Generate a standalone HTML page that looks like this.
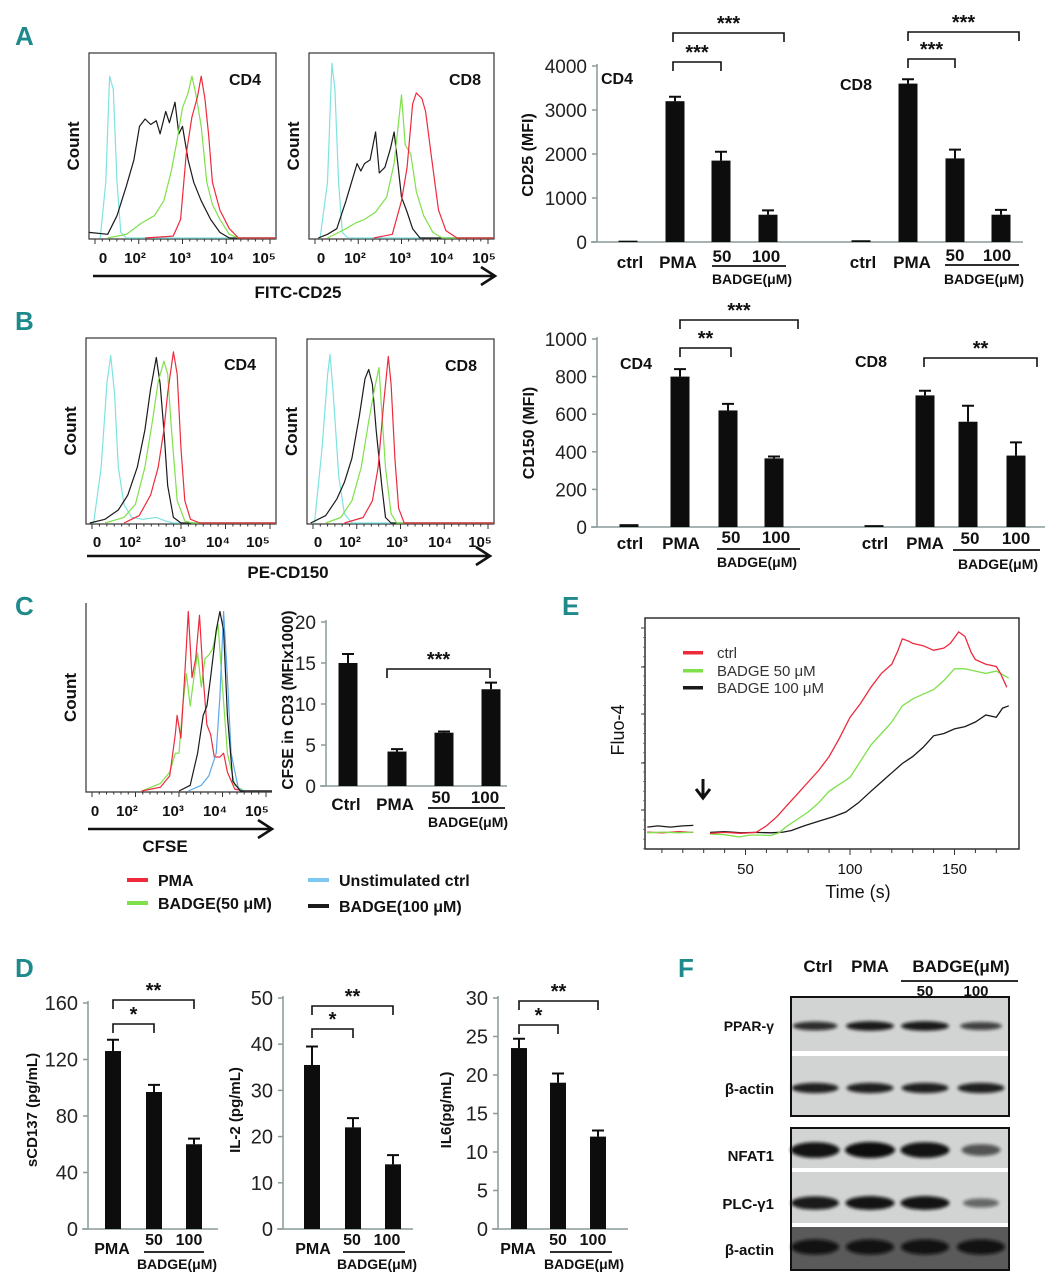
<!DOCTYPE html>
<html><head><meta charset="utf-8">
<style>
html,body{margin:0;padding:0;background:#fff;}
svg{display:block;font-family:"Liberation Sans",Arial,sans-serif;}
</style></head>
<body>
<svg id="fig" width="1057" height="1280" viewBox="0 0 1057 1280" xmlns="http://www.w3.org/2000/svg">
<defs><filter id="blur" x="-20%" y="-50%" width="140%" height="200%"><feGaussianBlur stdDeviation="1.6"/></filter></defs>
</svg>
<script>
// ---------- DATA ----------
const aCats = ["ctrl","PMA","50","100"];
const aCD4Vals = [30, 3200, 1850, 620];
const aCD4Errs = [0, 100, 200, 100];
const aCD8Vals = [40, 3600, 1900, 620];
const aCD8Errs = [0, 100, 200, 110];
const aTicks = [0, 1000, 2000, 3000, 4000];
const bCD4Vals = [15, 800, 620, 365];
const bCD4Errs = [0, 40, 35, 10];
const bCD8Vals = [10, 700, 560, 380];
const bCD8Errs = [0, 25, 85, 70];
const bTicks = [0, 200, 400, 600, 800, 1000];
const cCats = ["Ctrl","PMA","50","100"];
const cVals = [15, 4.2, 6.5, 11.8];
const cErrs = [1.1, 0.3, 0.15, 0.8];
const cTicks = [0, 5, 10, 15, 20];
const d1Vals = [126, 97, 60], d1Errs = [8, 5, 4], d1Ticks = [0, 40, 80, 120, 160];
const d2Vals = [35.5, 22, 14], d2Errs = [4, 2, 2], d2Ticks = [0, 10, 20, 30, 40, 50];
const d3Vals = [23.5, 19, 12], d3Errs = [1.2, 1.2, 0.8], d3Ticks = [0, 5, 10, 15, 20, 25, 30];
const eTicks = [50, 100, 150];
const eRedPre = [[3,7.3],[10,7.0],[18,7.5],[25,7.2]];
const eGreenPre = [[3,7.0],[10,7.3],[18,7.0],[25,7.3]];
const eBlackPre = [[3,9.5],[8,10],[14,9.5],[20,10],[25,10.2]];
const eRed = [[33,6.8],[40,7.2],[48,6.8],[55,7.2],[60,10],[65,14],[70,19],[75,24],[80,29],[85,34],[90,40],[95,48],[100,57],[105,63],[110,70],[115,76],[120,80],[123,86],[125,91],[128,90],[130,89],[135,88],[140,86],[145,87],[148,89],[152,94],[155,92],[158,85],[160,82],[165,80],[170,79],[172,76],[175,70]];
const eGreen = [[33,6.5],[40,6.2],[47,5.2],[52,6.0],[58,6.0],[62,5.8],[66,7.0],[70,10],[75,13],[80,16],[85,20],[90,25],[95,28],[100,31],[105,38],[110,45],[115,50],[120,55],[125,62],[130,65],[135,67],[140,69],[145,73],[150,78],[155,78],[160,77],[165,76],[170,77],[174,75],[176,74]];
const eBlack = [[33,7.2],[40,7.5],[48,7.0],[55,7.2],[62,7.0],[68,7.3],[72,8],[78,10],[85,12],[92,14],[98,16],[104,20],[110,25],[115,29],[120,33],[125,37],[130,40],[135,44],[140,49],[145,50],[150,52],[155,53],[160,55],[165,58],[170,57],[173,61],[176,62]];
const a1Cyan = [[0.06,0],[0.09,0.3],[0.11,0.87],[0.13,0.8],[0.15,0.3],[0.17,0.03],[0.2,0],[1,0]];
const a1Black = [[0,0.03],[0.1,0.02],[0.15,0.12],[0.2,0.28],[0.24,0.42],[0.27,0.6],[0.3,0.64],[0.33,0.61],[0.36,0.63],[0.38,0.56],[0.41,0.68],[0.43,0.62],[0.46,0.73],[0.48,0.56],[0.5,0.6],[0.53,0.42],[0.56,0.3],[0.6,0.2],[0.65,0.1],[0.7,0.03],[0.75,0],[1,0]];
const a1Green = [[0.1,0],[0.2,0.02],[0.28,0.08],[0.35,0.12],[0.4,0.2],[0.44,0.36],[0.47,0.52],[0.5,0.7],[0.53,0.78],[0.55,0.87],[0.57,0.78],[0.6,0.6],[0.63,0.3],[0.66,0.18],[0.7,0.1],[0.75,0.02],[0.8,0],[1,0]];
const a1Red = [[0.3,0],[0.45,0.01],[0.49,0.1],[0.52,0.45],[0.55,0.65],[0.58,0.76],[0.6,0.87],[0.62,0.75],[0.64,0.55],[0.66,0.3],[0.7,0.15],[0.75,0.05],[0.8,0],[1,0]];
const a2Cyan = [[0.06,0],[0.1,0.3],[0.124,0.94],[0.14,0.8],[0.16,0.3],[0.18,0.03],[0.21,0],[1,0]];
const a2Black = [[0.05,0],[0.1,0.02],[0.15,0.05],[0.2,0.2],[0.26,0.4],[0.28,0.36],[0.3,0.4],[0.33,0.42],[0.36,0.57],[0.38,0.35],[0.41,0.38],[0.44,0.48],[0.46,0.57],[0.48,0.4],[0.5,0.22],[0.53,0.14],[0.56,0.05],[0.6,0],[1,0]];
const a2Green = [[0.1,0],[0.2,0.05],[0.25,0.08],[0.3,0.1],[0.36,0.14],[0.42,0.22],[0.46,0.4],[0.5,0.77],[0.52,0.5],[0.55,0.45],[0.58,0.25],[0.62,0.12],[0.67,0.03],[0.72,0],[1,0]];
const a2Red = [[0.35,0],[0.45,0.02],[0.5,0.2],[0.53,0.38],[0.56,0.72],[0.58,0.78],[0.61,0.75],[0.63,0.68],[0.66,0.45],[0.7,0.15],[0.74,0.04],[0.8,0],[1,0]];
const b1Cyan = [[0.04,0],[0.08,0.3],[0.11,0.75],[0.13,0.9],[0.15,0.7],[0.17,0.3],[0.2,0.1],[0.24,0.03],[0.3,0.02],[0.37,0.03],[0.42,0.01],[0.46,0],[1,0]];
const b1Black = [[0.02,0],[0.1,0.02],[0.17,0.07],[0.22,0.15],[0.27,0.3],[0.31,0.5],[0.34,0.72],[0.37,0.89],[0.39,0.75],[0.41,0.5],[0.43,0.2],[0.46,0.03],[0.5,0],[1,0]];
const b1Green = [[0.1,0],[0.2,0.03],[0.26,0.1],[0.31,0.3],[0.35,0.55],[0.38,0.76],[0.41,0.87],[0.43,0.8],[0.45,0.5],[0.48,0.12],[0.52,0.01],[0.56,0],[1,0]];
const b1Red = [[0.2,0],[0.28,0.04],[0.34,0.15],[0.38,0.3],[0.41,0.5],[0.43,0.7],[0.46,0.92],[0.48,0.8],[0.5,0.4],[0.52,0.12],[0.55,0.02],[0.6,0],[1,0]];
const b2Cyan = [[0.04,0],[0.08,0.4],[0.11,0.8],[0.123,0.91],[0.14,0.7],[0.17,0.25],[0.2,0.05],[0.24,0],[1,0]];
const b2Black = [[0.02,0],[0.1,0.04],[0.16,0.13],[0.2,0.22],[0.24,0.35],[0.28,0.58],[0.31,0.78],[0.33,0.83],[0.35,0.75],[0.37,0.5],[0.4,0.2],[0.42,0.03],[0.45,0],[1,0]];
const b2Green = [[0.1,0],[0.18,0.03],[0.24,0.12],[0.29,0.3],[0.33,0.55],[0.36,0.72],[0.385,0.84],[0.4,0.6],[0.42,0.3],[0.45,0.05],[0.48,0],[1,0]];
const b2Red = [[0.2,0],[0.3,0.03],[0.35,0.12],[0.38,0.3],[0.41,0.65],[0.435,0.9],[0.45,0.75],[0.47,0.35],[0.49,0.08],[0.52,0],[1,0]];
const cRed = [[0.3,0],[0.4,0.02],[0.45,0.08],[0.48,0.3],[0.49,0.4],[0.51,0.28],[0.53,0.6],[0.55,0.95],[0.57,0.6],[0.59,0.7],[0.61,0.93],[0.63,0.6],[0.65,0.35],[0.67,0.3],[0.69,0.18],[0.72,0.18],[0.74,0.2],[0.76,0.1],[0.8,0.01],[0.85,0],[1,0]];
const cGreen = [[0.3,0],[0.4,0.04],[0.45,0.1],[0.48,0.2],[0.5,0.2],[0.52,0.45],[0.54,0.62],[0.56,0.45],[0.58,0.6],[0.6,0.73],[0.62,0.55],[0.64,0.7],[0.66,0.72],[0.68,0.75],[0.71,0.88],[0.73,0.6],[0.76,0.2],[0.8,0.03],[0.85,0],[1,0]];
const cBlack = [[0.5,0],[0.56,0.03],[0.6,0.2],[0.63,0.4],[0.65,0.45],[0.67,0.6],[0.7,0.85],[0.72,0.95],[0.74,0.85],[0.76,0.4],[0.79,0.05],[0.83,0],[1,0]];
const cBlue = [[0.55,0],[0.62,0.03],[0.66,0.08],[0.7,0.2],[0.72,0.5],[0.74,0.95],[0.76,0.6],[0.78,0.2],[0.82,0.01],[0.85,0],[1,0]];
const logTickLabels = ["0","10²","10³","10⁴","10⁵"];
const wPPAR = [0.75, 0.9, 0.9, 0.6];
const wActin1 = [0.85, 0.85, 0.85, 0.85];
const wNFAT = [0.95, 1.0, 0.95, 0.45];
const wPLC = [0.9, 0.95, 0.95, 0.3];
const wActin2 = [0.9, 0.9, 0.9, 0.9];

// ---------- HELPERS ----------
const S = document.getElementById('fig');
const NS = 'http://www.w3.org/2000/svg';
function mk(tag, attrs, parent) {
  const e = document.createElementNS(NS, tag);
  for (const k in attrs) e.setAttribute(k, attrs[k]);
  (parent || S).appendChild(e);
  return e;
}
function txt(x, y, s, size, opts, name) {
  opts = opts || {};
  const t = mk('text', {x: x, y: y, 'font-size': size, 'text-anchor': opts.anchor || 'middle', 'font-weight': opts.bold === false ? 'normal' : 'bold', fill: opts.fill || '#111'});
  if (opts.rot) t.setAttribute('transform', 'rotate(-90 ' + x + ' ' + y + ')');
  t.textContent = s;
  
  
  return t;
}
function line(x1, y1, x2, y2, w, c, name) {
  const l = mk('line', {x1: x1, y1: y1, x2: x2, y2: y2, stroke: c || '#111', 'stroke-width': w || 1.5});
  
  
  return l;
}
function bracket(x1, x2, y, label, name) {
  const p = mk('path', {d: 'M' + x1 + ' ' + (y + 9) + 'V' + y + 'H' + x2 + 'V' + (y + 9), fill: 'none', stroke: '#111', 'stroke-width': 1.6});
  
  
  txt((x1 + x2) / 2, y - 3, label, 20, {}, name + '-stars');
}
function panelLabel(x, y, s) {
  const t = mk('text', {x: x, y: y, 'font-size': 26, 'font-weight': 'bold', fill: '#1f8a8c'});
  t.textContent = s;
  
  
}
function barChart(cfg) {
  const g = mk('g', {});
  
  
  const ys = v => cfg.y0 - v / cfg.max * (cfg.y0 - cfg.yTop);
  const ax = mk('line', {x1: cfg.ax, y1: cfg.yTop - 2, x2: cfg.ax, y2: cfg.y0, stroke: '#8a9a9a', 'stroke-width': 1.5}, g);
  
  
  const xa = mk('line', {x1: cfg.ax - 6, y1: cfg.y0, x2: cfg.xEnd, y2: cfg.y0, stroke: '#8a9a9a', 'stroke-width': 1.5}, g);
  
  
  cfg.ticks.forEach(t => {
    const tk = mk('line', {x1: cfg.ax - 5, y1: ys(t), x2: cfg.ax, y2: ys(t), stroke: '#8a9a9a', 'stroke-width': 1.5}, g);
    
    
    txt(cfg.ax - 10, ys(t) + 7, String(t), cfg.tickSize || 19, {anchor: 'end', bold: false, fill: '#222'}, 'y-tick-label');
  });
  cfg.groups.forEach(gr => {
    gr.vals.forEach((v, i) => {
      const cx = gr.xs[i], w = cfg.bw;
      const r = mk('rect', {x: cx - w / 2, y: ys(v), width: w, height: cfg.y0 - ys(v), fill: '#0d0d0d'}, g);
      
      
      const e = gr.errs[i];
      if (e > 0) {
        const ep = mk('path', {d: 'M' + cx + ' ' + ys(v) + 'V' + ys(v + e) + 'M' + (cx - 6) + ' ' + ys(v + e) + 'H' + (cx + 6), stroke: '#0d0d0d', 'stroke-width': 2, fill: 'none'}, g);
        
        
      }
    });
  });
}
function hist(cfg) {
  const g = mk('g', {});
  
  
  const W = cfg.x1 - cfg.x0, H = cfg.y1 - cfg.y0;
  if (cfg.box) {
    const r = mk('rect', {x: cfg.x0, y: cfg.y0, width: W, height: H, fill: 'none', stroke: '#333', 'stroke-width': 1.2}, g);
    
    
  } else {
    const p = mk('path', {d: 'M' + cfg.x0 + ' ' + cfg.y0 + 'V' + cfg.y1 + 'H' + cfg.x1, fill: 'none', stroke: '#333', 'stroke-width': 1.2}, g);
    
    
  }
  for (let i = 0; i <= 24; i++) {
    const x = cfg.x0 + 6 + i * (W - 12) / 24;
    const tk = mk('line', {x1: x, y1: cfg.y1, x2: x, y2: cfg.y1 + (i % 6 === 0 ? 5 : 2.5), stroke: '#333', 'stroke-width': 1}, g);
    
    
  }
  cfg.curves.forEach(c => {
    const pts = c.pts.map(p => (cfg.x0 + p[0] * W).toFixed(1) + ',' + (cfg.y1 - 1 - p[1] * H).toFixed(1)).join(' ');
    const pl = mk('polyline', {points: pts, fill: 'none', stroke: c.color, 'stroke-width': 1.2, 'stroke-linejoin': 'round'}, g);
    
    
  });
  cfg.tickXs.forEach((x, i) => {
    txt(x, cfg.y1 + (cfg.tickDy || 24), logTickLabels[i], 15, {}, 'x-tick-label');
  });
  if (cfg.label) txt(cfg.labelX, cfg.y0 + 32, cfg.label, 16, {}, 'population-label');
  txt(cfg.x0 - 10, (cfg.y0 + cfg.y1) / 2, 'Count', 17, {rot: true}, 'y-axis-title');
}
function arrow(x1, x2, y, name) {
  const p = mk('path', {d: 'M' + x1 + ' ' + y + 'H' + x2 + 'M' + (x2 - 14) + ' ' + (y - 9) + 'L' + x2 + ' ' + y + 'L' + (x2 - 14) + ' ' + (y + 9), fill: 'none', stroke: '#111', 'stroke-width': 2.6});
  
  
}
const RED = '#ee2a3c', GREEN = '#7fe04a', CYAN = '#7ee3e0', BLACK = '#1a1a1a', BLUE = '#5aa8ea';

// ---------- PANEL A ----------
panelLabel(15, 45, 'A');
hist({name: 'hist-a-cd4', x0: 89, x1: 276, y0: 53, y1: 239, box: true, label: 'CD4', labelX: 245,
  tickXs: [103, 135, 180, 222, 264],
  curves: [{pts: a1Cyan, color: CYAN, name: 'curve-unstim'}, {pts: a1Black, color: BLACK, name: 'curve-badge100'}, {pts: a1Green, color: GREEN, name: 'curve-badge50'}, {pts: a1Red, color: RED, name: 'curve-pma'}]});
hist({name: 'hist-a-cd8', x0: 309, x1: 494, y0: 53, y1: 239, box: true, label: 'CD8', labelX: 465,
  tickXs: [321, 355, 400, 442, 484],
  curves: [{pts: a2Cyan, color: CYAN, name: 'curve-unstim'}, {pts: a2Black, color: BLACK, name: 'curve-badge100'}, {pts: a2Green, color: GREEN, name: 'curve-badge50'}, {pts: a2Red, color: RED, name: 'curve-pma'}]});
arrow(93, 495, 276, 'x-axis-arrow-a');
txt(298, 298, 'FITC-CD25', 17, {}, 'x-axis-title-a');

barChart({name: 'bar-chart-a', ax: 597, xEnd: 1023, y0: 242, yTop: 66, max: 4000, ticks: aTicks, bw: 19,
  groups: [{id: 'cd4', xs: [628, 675, 721, 768], vals: aCD4Vals, errs: aCD4Errs}, {id: 'cd8', xs: [861, 908, 955, 1001], vals: aCD8Vals, errs: aCD8Errs}]});
txt(533, 155, 'CD25 (MFI)', 16, {rot: true}, 'y-axis-title-a');
txt(617, 84, 'CD4', 16, {}, 'group-label-cd4');
txt(856, 90, 'CD8', 16, {}, 'group-label-cd8');
bracket(673, 784, 33, '***', 'sig-bracket-a1');
bracket(673, 721, 62, '***', 'sig-bracket-a2');
bracket(908, 1019, 32, '***', 'sig-bracket-a3');
bracket(908, 955, 59, '***', 'sig-bracket-a4');
[[630, 268, aCats[0]], [678, 268, aCats[1]], [722, 262, aCats[2]], [766, 262, aCats[3]], [863, 268, aCats[0]], [912, 268, aCats[1]], [955, 261, aCats[2]], [997, 261, aCats[3]]].forEach(a => txt(a[0], a[1], a[2], 17, {}, 'x-category-label'));
line(712, 266, 786, 266, 1.8, '#111', 'badge-underline');
line(945, 265, 1019, 265, 1.8, '#111', 'badge-underline');
txt(752, 284, 'BADGE(μM)', 14, {}, 'badge-label');
txt(984, 284, 'BADGE(μM)', 14, {}, 'badge-label');

// ---------- PANEL B ----------
panelLabel(15, 330, 'B');
hist({name: 'hist-b-cd4', x0: 86, x1: 276, y0: 338, y1: 524, box: true, label: 'CD4', labelX: 240,
  tickXs: [97, 130, 175, 218, 258], tickDy: 23,
  curves: [{pts: b1Cyan, color: CYAN, name: 'curve-unstim'}, {pts: b1Black, color: BLACK, name: 'curve-badge100'}, {pts: b1Green, color: GREEN, name: 'curve-badge50'}, {pts: b1Red, color: RED, name: 'curve-pma'}]});
hist({name: 'hist-b-cd8', x0: 307, x1: 494, y0: 339, y1: 524, box: true, label: 'CD8', labelX: 461,
  tickXs: [318, 350, 397, 440, 480], tickDy: 23,
  curves: [{pts: b2Cyan, color: CYAN, name: 'curve-unstim'}, {pts: b2Black, color: BLACK, name: 'curve-badge100'}, {pts: b2Green, color: GREEN, name: 'curve-badge50'}, {pts: b2Red, color: RED, name: 'curve-pma'}]});
arrow(87, 490, 556, 'x-axis-arrow-b');
txt(288, 578, 'PE-CD150', 17, {}, 'x-axis-title-b');

barChart({name: 'bar-chart-b', ax: 597, xEnd: 1045, y0: 527, yTop: 339, max: 1000, ticks: bTicks, bw: 19,
  groups: [{id: 'cd4', xs: [629, 680, 728, 774], vals: bCD4Vals, errs: bCD4Errs}, {id: 'cd8', xs: [874, 925, 968, 1016], vals: bCD8Vals, errs: bCD8Errs}]});
txt(534, 433, 'CD150 (MFI)', 16, {rot: true}, 'y-axis-title-b');
txt(636, 369, 'CD4', 16, {}, 'group-label-cd4');
txt(871, 367, 'CD8', 16, {}, 'group-label-cd8');
bracket(680, 798, 320, '***', 'sig-bracket-b1');
bracket(680, 731, 348, '**', 'sig-bracket-b2');
bracket(924, 1037, 358, '**', 'sig-bracket-b3');
[[630, 549, aCats[0]], [681, 549, aCats[1]], [731, 543, aCats[2]], [776, 543, aCats[3]], [875, 549, aCats[0]], [925, 549, aCats[1]], [970, 544, aCats[2]], [1016, 544, aCats[3]]].forEach(a => txt(a[0], a[1], a[2], 17, {}, 'x-category-label'));
line(717, 549, 800, 549, 1.8, '#111', 'badge-underline');
line(953, 550, 1040, 550, 1.8, '#111', 'badge-underline');
txt(757, 567, 'BADGE(μM)', 14, {}, 'badge-label');
txt(998, 569, 'BADGE(μM)', 14, {}, 'badge-label');

// ---------- PANEL C ----------
panelLabel(15, 615, 'C');
hist({name: 'hist-c', x0: 86, x1: 272, y0: 603, y1: 792, box: false, label: '', labelX: 0,
  tickXs: [95, 127, 173, 215, 257],
  curves: [{pts: cGreen, color: GREEN, name: 'curve-badge50'}, {pts: cRed, color: RED, name: 'curve-pma'}, {pts: cBlue, color: BLUE, name: 'curve-unstim'}, {pts: cBlack, color: BLACK, name: 'curve-badge100'}]});
arrow(88, 272, 829, 'x-axis-arrow-c');
txt(165, 852, 'CFSE', 17, {}, 'x-axis-title-c');
barChart({name: 'bar-chart-c', ax: 326, xEnd: 507, y0: 786, yTop: 622, max: 20, ticks: cTicks, bw: 19,
  groups: [{id: 'c', xs: [348, 397, 444, 491], vals: cVals, errs: cErrs}]});
txt(293, 700, 'CFSE in CD3 (MFIx1000)', 15.5, {rot: true}, 'y-axis-title-c');
bracket(387, 490, 669, '***', 'sig-bracket-c');
[[346, 810, cCats[0]], [395, 810, cCats[1]], [441, 803, cCats[2]], [485, 803, cCats[3]]].forEach(a => txt(a[0], a[1], a[2], 17, {}, 'x-category-label'));
line(428, 808, 505, 808, 1.8, '#111', 'badge-underline');
txt(468, 827, 'BADGE(μM)', 14, {}, 'badge-label');
[[127, 880, RED, 'PMA'], [127, 903, GREEN, 'BADGE(50 μM)'], [308, 880, '#7cc8f0', 'Unstimulated ctrl'], [308, 906, BLACK, 'BADGE(100 μM)']].forEach(l => {
  const r = mk('rect', {x: l[0], y: l[1] - 2, width: 21, height: 4, fill: l[2]});
  
  
  txt(l[0] + 31, l[1] + 6, l[3], 16, {anchor: 'start'}, 'legend-entry');
});

// ---------- PANEL E ----------
panelLabel(562, 615, 'E');
(function () {
  const x0 = 645, x1 = 1019, y0 = 618, y1 = 849;
  const tx = t => 641 + t * 2.09;
  const vy = v => y1 - v / 100 * (y1 - y0);
  const fr = mk('rect', {x: x0, y: y0, width: x1 - x0, height: y1 - y0, fill: 'none', stroke: '#222', 'stroke-width': 1.4});
  
  
  for (let t = 10; t <= 170; t += 10) line(tx(t), y1, tx(t), y1 + (t % 50 === 0 ? 6 : 4), 1, '#333', 'x-tick');
  [628, 667, 714, 763, 810].forEach(y => line(x0 - 4, y, x0, y, 1, '#333', 'y-tick'));
  for (let y = 628; y < 850; y += 9.6) line(x0 - 2, y, x0, y, 0.7, '#555', 'y-minor-tick');
  eTicks.forEach(t => txt(tx(t), 874, String(t), 15, {bold: false}, 'x-tick-label-e'));
  txt(858, 898, 'Time (s)', 18, {bold: false}, 'x-axis-title-e');
  txt(624, 730, 'Fluo-4', 18, {rot: true, bold: false}, 'y-axis-title-e');
  const series = [[eRedPre, RED, 'trace-ctrl-pre'], [eGreenPre, GREEN, 'trace-badge50-pre'], [eBlackPre, BLACK, 'trace-badge100-pre'], [eBlack, BLACK, 'trace-badge100'], [eGreen, GREEN, 'trace-badge50'], [eRed, RED, 'trace-ctrl']];
  series.forEach(s => {
    const pl = mk('polyline', {points: s[0].map(p => tx(p[0]).toFixed(1) + ',' + vy(p[1]).toFixed(1)).join(' '), fill: 'none', stroke: s[1], 'stroke-width': 1.3});
    
    
  });
  const ar = mk('path', {d: 'M703 779V797M696 789L703 798L710 789', fill: 'none', stroke: '#111', 'stroke-width': 3});
  
  
  [[653, RED, 'ctrl'], [671, GREEN, 'BADGE 50 μM'], [688, BLACK, 'BADGE 100 μM']].forEach(l => {
    const r = mk('rect', {x: 683, y: l[0] - 2, width: 20, height: 3.5, fill: l[1]});
    
    
    txt(717, l[0] + 5, l[2], 15, {anchor: 'start', bold: false, fill: '#333'}, 'legend-entry-e');
  });
})();

// ---------- PANEL D ----------
panelLabel(15, 977, 'D');
const dLabels = ['PMA', '50', '100'];
function dChart(id, ax, xs, vals, errs, ticks, ytitle, ytx, brs, lab) {
  barChart({name: 'bar-chart-' + id, ax: ax, xEnd: ax + 130, y0: 1229, yTop: ticks === d1Ticks ? 1003 : 998, max: ticks[ticks.length - 1], ticks: ticks, bw: 16, tickSize: 20,
    groups: [{id: id, xs: xs, vals: vals, errs: errs}]});
  txt(ytx, 1110, ytitle, 15, {rot: true}, 'y-axis-title-' + id);
  bracket(xs[0], xs[2], brs[0], '**', 'sig-bracket-' + id + '-outer');
  bracket(xs[0], xs[1], brs[1], '*', 'sig-bracket-' + id + '-inner');
  txt(lab[0], 1254, dLabels[0], 16, {}, 'x-category-label');
  txt(lab[1], 1245, dLabels[1], 16, {}, 'x-category-label');
  txt(lab[2], 1245, dLabels[2], 16, {}, 'x-category-label');
  line(lab[3], 1252, lab[4], 1252, 1.8, '#111', 'badge-underline');
  txt((lab[3] + lab[4]) / 2 + 3, 1269, 'BADGE(μM)', 14, {}, 'badge-label');
}
dChart('d1', 88, [113, 154, 194], d1Vals, d1Errs, d1Ticks, 'sCD137 (pg/mL)', 37, [1000, 1024], [112, 154, 189, 144, 204]);
dChart('d2', 283, [312, 353, 393], d2Vals, d2Errs, d2Ticks, 'IL-2 (pg/mL)', 240, [1006, 1029], [313, 352, 387, 343, 405]);
dChart('d3', 498, [519, 558, 598], d3Vals, d3Errs, d3Ticks, 'IL6(pg/mL)', 451, [1001, 1025], [518, 558, 593, 550, 612]);

// ---------- PANEL F ----------
panelLabel(678, 977, 'F');
txt(818, 972, 'Ctrl', 17, {}, 'lane-label-ctrl');
txt(870, 972, 'PMA', 17, {}, 'lane-label-pma');
txt(961, 972, 'BADGE(μM)', 17, {}, 'lane-label-badge');
line(901, 981, 1018, 981, 1.8, '#111', 'badge-underline');
txt(925, 996, '50', 15, {}, 'lane-label-50');
txt(976, 996, '100', 15, {}, 'lane-label-100');
const laneX = [815, 870, 925, 981];
function blotBox(y0, y1, name) {
  const r = mk('rect', {x: 791, y: y0, width: 218, height: y1 - y0, fill: '#d2d4d3', stroke: '#111', 'stroke-width': 2});
  
  
}
function bands(yc, vals, h, name) {
  vals.forEach((v, i) => {
    const e = mk('ellipse', {cx: laneX[i], cy: yc, rx: 25 * (0.6 + 0.4 * v), ry: h * (0.5 + 0.5 * v), fill: '#0a0a0a', opacity: 0.35 + 0.65 * v, filter: 'url(#blur)'});
    
    
  });
}
blotBox(997, 1116, 'blot-ppar');
const w1 = mk('rect', {x: 792, y: 1051, width: 216, height: 5, fill: '#fff'});


blotBox(1128, 1270, 'blot-nfat');
const dk = mk('rect', {x: 792, y: 1227, width: 216, height: 42, fill: '#5a5a5a'});


const w2 = mk('rect', {x: 792, y: 1168, width: 216, height: 4, fill: '#fff'});


const w3 = mk('rect', {x: 792, y: 1223, width: 216, height: 4, fill: '#fff'});


bands(1026, wPPAR, 5, 'ppar');
bands(1088, wActin1, 5.5, 'actin1');
bands(1150, wNFAT, 8, 'nfat1');
bands(1203, wPLC, 7, 'plc');
bands(1247, wActin2, 8, 'actin2');
txt(774, 1031, 'PPAR-γ', 14, {anchor: 'end'}, 'blot-label-ppar');
txt(774, 1094, 'β-actin', 15, {anchor: 'end'}, 'blot-label-actin');
txt(774, 1161, 'NFAT1', 15, {anchor: 'end'}, 'blot-label-nfat1');
txt(774, 1209, 'PLC-γ1', 15, {anchor: 'end'}, 'blot-label-plc');
txt(774, 1255, 'β-actin', 15, {anchor: 'end'}, 'blot-label-actin2');
</script>
</body></html>
